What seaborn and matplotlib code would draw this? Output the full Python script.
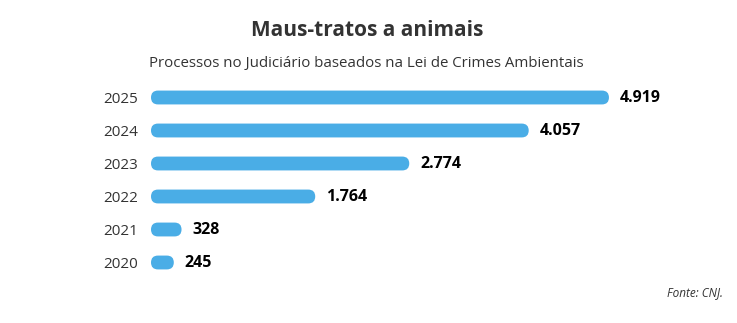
import matplotlib
matplotlib.use("Agg")
import matplotlib.pyplot as plt
import seaborn as sns
import pandas as pd
from matplotlib.patches import FancyBboxPatch

years = ["2025", "2024", "2023", "2022", "2021", "2020"]
values = [4919, 4057, 2774, 1764, 328, 245]
labels = ["4.919", "4.057", "2.774", "1.764", "328", "245"]

sns.set_theme(style="white")
plt.rcParams["font.family"] = ["Open Sans", "DejaVu Sans"]

W, H = 737, 323
fig = plt.figure(figsize=(W / 100, H / 100), dpi=100)
x0px, x1px = 151, 672
top_px, bot_px = 81, 279
ax = fig.add_axes([x0px / W, (H - bot_px) / H, (x1px - x0px) / W, (bot_px - top_px) / H])

df = pd.DataFrame({"year": years, "value": values})
color = "#4aade6"
sns.barplot(data=df, x="value", y="year", color=color, width=0.42, ax=ax, saturation=1)
ax.set_xlim(0, (x1px - x0px) / 0.0931)
ax.set_ylim(5.5, -0.5)

xpx = (ax.transData.transform((1000, 0))[0] - ax.transData.transform((0, 0))[0]) / 1000
ypx = abs(ax.transData.transform((0, 1))[1] - ax.transData.transform((0, 0))[1])
r_px = 7
for p in list(ax.patches):
    x, y = p.get_x(), p.get_y()
    w, h = p.get_width(), p.get_height()
    p.set_visible(False)
    fb = FancyBboxPatch((x, y), w, h,
                        boxstyle=f"round,pad=0,rounding_size={r_px / xpx}",
                        mutation_aspect=xpx / ypx,
                        facecolor=color, edgecolor="none")
    ax.add_patch(fb)

for i, (v, lab) in enumerate(zip(values, labels)):
    ax.text(v + 11 / xpx, i + 0.03, lab, va="center", ha="left", fontsize=11.5,
            fontweight="bold", color="#000000")

ax.set_xlabel("")
ax.set_ylabel("")
ax.set_xticks([])
ax.tick_params(axis="y", length=0, pad=9, labelsize=11, labelcolor="#333333")
for s in ax.spines.values():
    s.set_visible(False)

fig.text(367 / W, 1 - 30 / H, "Maus-tratos a animais", ha="center", va="center",
         fontsize=15, fontweight="bold", color="#333333")
fig.text(366 / W, 1 - 64 / H, "Processos no Judiciário baseados na Lei de Crimes Ambientais",
         ha="center", va="center", fontsize=10.8, color="#333333")
fig.text(723 / W, 1 - 293 / H, "Fonte: CNJ.", ha="right", va="center",
         fontsize=8.5, fontstyle="italic", color="#333333")

fig.savefig("out.png", dpi=100)
